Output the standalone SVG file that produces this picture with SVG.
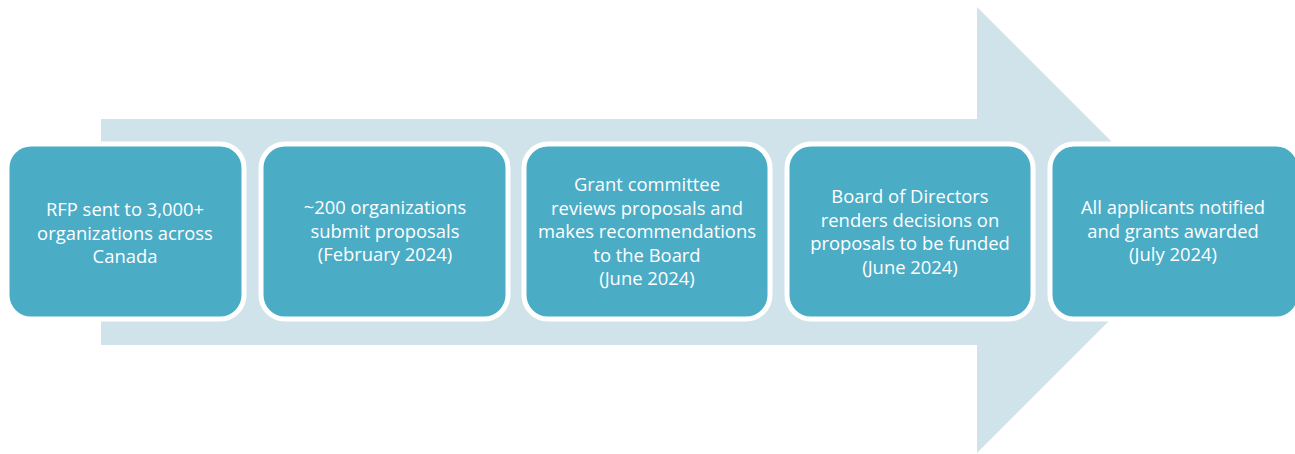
<svg xmlns="http://www.w3.org/2000/svg" width="1295" height="454" viewBox="0 0 1295 454">
<style>
.box{fill:#4BACC6;stroke:#FFFFFF;stroke-width:5}
.t{fill:#FFFFFF;font-family:"Open Sans","Liberation Sans",sans-serif;font-size:18.4px;text-anchor:middle}
</style>
<rect width="1295" height="454" fill="#FFFFFF"/>
<g id="arrow">
<polygon points="101,119 977,119 977,7 1200,230 977,453 977,345 101,345" fill="#D1E3EA"/>
</g>
<g id="connectors"></g>
<g id="n1">
<rect class="box" x="7" y="144" width="237" height="175" rx="24"/>
<text class="t" x="125" y="216">RFP sent to 3,000+</text>
<text class="t" x="125" y="239.5">organizations across</text>
<text class="t" x="125" y="263">Canada</text>
</g>
<g id="n2">
<rect class="box" x="261" y="144" width="247" height="175" rx="24"/>
<text class="t" x="385" y="214">~200 organizations</text>
<text class="t" x="385" y="237.5">submit proposals</text>
<text class="t" x="385" y="261">(February 2024)</text>
</g>
<g id="n3">
<rect class="box" x="524" y="144" width="246" height="175" rx="24"/>
<text class="t" x="647" y="191">Grant committee</text>
<text class="t" x="647" y="214.5">reviews proposals and</text>
<text class="t" x="647" y="238">makes recommendations</text>
<text class="t" x="647" y="261.5">to the Board</text>
<text class="t" x="647" y="285">(June 2024)</text>
</g>
<g id="n4">
<rect class="box" x="787" y="144" width="246" height="175" rx="24"/>
<text class="t" x="910" y="203">Board of Directors</text>
<text class="t" x="910" y="226.5">renders decisions on</text>
<text class="t" x="910" y="250">proposals to be funded</text>
<text class="t" x="910" y="273.5">(June 2024)</text>
</g>
<g id="n5">
<rect class="box" x="1050" y="144" width="250" height="175" rx="24"/>
<text class="t" x="1173" y="214">All applicants notified</text>
<text class="t" x="1173" y="237.5">and grants awarded</text>
<text class="t" x="1173" y="261">(July 2024)</text>
</g>
</svg>
